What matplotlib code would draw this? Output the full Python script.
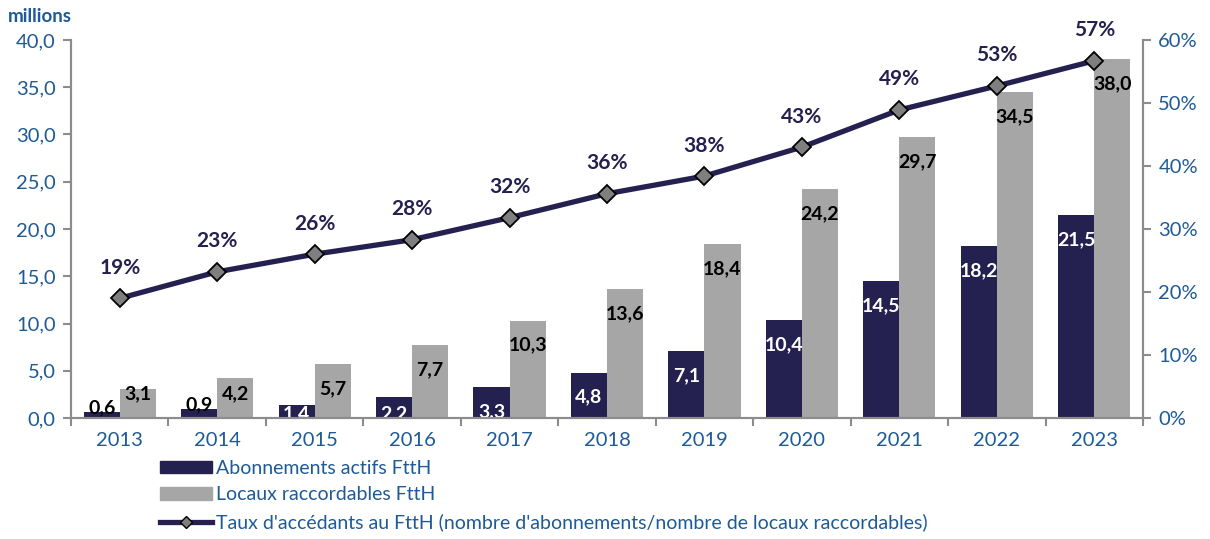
#!/usr/bin/env python3
"""FttH: abonnements actifs, locaux raccordables et taux d'accédants."""

import matplotlib
matplotlib.use("Agg")
import matplotlib.pyplot as plt
import matplotlib.patches as mpatches
from matplotlib.lines import Line2D
import numpy as np

years = ["2013", "2014", "2015", "2016", "2017", "2018",
         "2019", "2020", "2021", "2022", "2023"]
abonnements = [0.6, 0.9, 1.4, 2.2, 3.3, 4.8, 7.1, 10.4, 14.5, 18.2, 21.5]
locaux = [3.1, 4.2, 5.7, 7.7, 10.3, 13.6, 18.4, 24.2, 29.7, 34.5, 38.0]
taux = [19.0, 23.2, 26.0, 28.3, 31.8, 35.6, 38.4, 43.0, 48.9, 52.7, 56.7]
taux_labels = ["19%", "23%", "26%", "28%", "32%", "36%",
               "38%", "43%", "49%", "53%", "57%"]

NAVY = "#242150"
GRAY = "#A6A6A6"
BLUE = "#1D5A96"
AXIS = "#8C8C8C"

plt.rcParams.update({
    "font.family": ["Lato", "DejaVu Sans"],
    "font.size": 14,
})


def fmt(v):
    return f"{v:.1f}".replace(".", ",")


fig = plt.figure(figsize=(12.1, 5.39), dpi=100)
ax = fig.add_axes([71 / 1210, 1 - 418 / 539, (1143 - 71) / 1210, 378 / 539])
ax2 = ax.twinx()

x = np.arange(len(years))
w = 0.37
ax.bar(x - w / 2, abonnements, w, color=NAVY, zorder=2)
ax.bar(x + w / 2, locaux, w, color=GRAY, zorder=2)

# value labels, inside end of the bars
for xi, v in zip(x, abonnements):
    if v < 1:
        ax.text(xi - w / 2, v + 0.45, fmt(v), ha="center", va="center",
                fontsize=14, fontweight="bold", color="black", zorder=4)
    else:
        ax.text(xi - w / 2, max(v - 2.6, 0.5), fmt(v), ha="center", va="center",
                fontsize=14, fontweight="bold", color="white", zorder=4,
                clip_on=True)
for xi, v in zip(x, locaux):
    ax.text(xi + w / 2, max(v - 2.6, 2.6), fmt(v), ha="center", va="center",
            fontsize=14, fontweight="bold", color="black", zorder=4)

ax.set_xlim(-0.5, len(years) - 0.5)
ax.set_ylim(0, 40)
ax.set_yticks(np.arange(0, 40.1, 5))
ax.set_yticklabels([fmt(t) for t in np.arange(0, 40.1, 5)])
ax.set_xticks(x)
ax.set_xticklabels(years)
ax.set_xticks(np.arange(-0.5, len(years)), minor=True)
ax.tick_params(axis="x", which="major", length=0, pad=10,
               labelsize=14.5, labelcolor=BLUE)
ax.tick_params(axis="x", which="minor", length=6, width=1.5, color=AXIS)
ax.tick_params(axis="y", length=6, width=1.5, color=AXIS,
               labelsize=14.5, labelcolor=BLUE, pad=5)

# line on secondary axis
ax2.plot(x, taux, color=NAVY, lw=3.8, marker="D", ms=9.5,
         mfc="#7F7F7F", mec="black", mew=1.3, zorder=5)
for xi, v, lab in zip(x, taux, taux_labels):
    ax2.annotate(lab, (xi, v), xytext=(0, 22), textcoords="offset points",
                 ha="center", va="center", fontsize=15, fontweight="bold",
                 color=NAVY)
ax2.set_ylim(0, 60)
ax2.set_yticks(np.arange(0, 61, 10))
ax2.set_yticklabels([f"{t}%" for t in range(0, 61, 10)])
ax2.tick_params(axis="y", length=6, width=1.5, color=AXIS,
                labelsize=14.5, labelcolor=BLUE, pad=5)

for a in (ax, ax2):
    a.spines["top"].set_visible(False)
    for s in ("left", "right", "bottom"):
        a.spines[s].set_color(AXIS)
        a.spines[s].set_linewidth(1.5)

fig.text(8 / 1210, 1 - 17 / 539, "millions", ha="left", va="center",
         fontsize=13.5, fontweight="bold", color=BLUE)

handles = [
    mpatches.Patch(color=NAVY, label="Abonnements actifs FttH"),
    mpatches.Patch(color=GRAY, label="Locaux raccordables FttH"),
    Line2D([], [], color=NAVY, lw=3.8, marker="D", ms=6, mfc="#7F7F7F",
           mec="black",
           label="Taux d'accédants au FttH (nombre d'abonnements/nombre de locaux raccordables)"),
]
leg = fig.legend(handles=handles, loc="upper left",
                 bbox_to_anchor=(150 / 1210, 1 - 450 / 539), frameon=False,
                 fontsize=14, handlelength=2.7, handleheight=0.6,
                 handletextpad=0.2, labelspacing=0.5, borderpad=0)
for t in leg.get_texts():
    t.set_color(BLUE)

fig.savefig("out.png", dpi=100)
